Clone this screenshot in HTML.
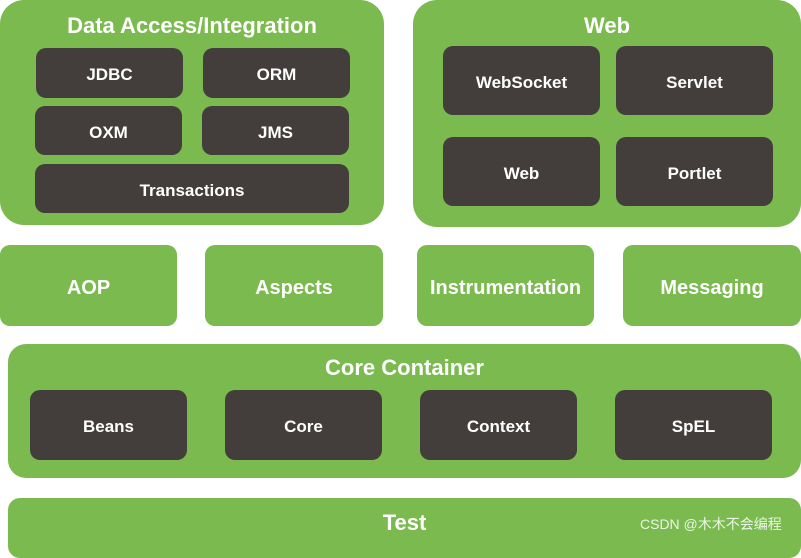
<!DOCTYPE html>
<html><head><meta charset="utf-8"><style>
body{margin:0;width:801px;height:541px;overflow:hidden;background:#fff;position:relative;font-family:"Liberation Sans",Arial,sans-serif;font-weight:bold}
.g{position:absolute;background:#7aba4f;border-radius:24px}
.s{position:absolute;background:#7aba4f;border-radius:10px;color:#fff;font-size:20px;display:flex;align-items:center;justify-content:center;box-sizing:border-box;padding-top:5px}
.d{position:absolute;background:#433e3b;border-radius:10px;color:#fff;font-size:17px;display:flex;align-items:center;justify-content:center;box-sizing:border-box;padding-top:4px}
.t{position:absolute;color:#fff;font-size:22px;text-align:center}
</style></head><body>
<div class="g" style="left:0;top:0;width:384px;height:225px"></div>
<div class="t" style="left:0;top:13px;width:384px">Data Access/Integration</div>
<div class="d" style="left:36px;top:48px;width:147px;height:50px">JDBC</div>
<div class="d" style="left:203px;top:48px;width:147px;height:50px">ORM</div>
<div class="d" style="left:35px;top:106px;width:147px;height:49px">OXM</div>
<div class="d" style="left:202px;top:106px;width:147px;height:49px">JMS</div>
<div class="d" style="left:35px;top:164px;width:314px;height:49px">Transactions</div>

<div class="g" style="left:413px;top:0;width:388px;height:227px"></div>
<div class="t" style="left:413px;top:13px;width:388px">Web</div>
<div class="d" style="left:443px;top:46px;width:157px;height:69px">WebSocket</div>
<div class="d" style="left:616px;top:46px;width:157px;height:69px">Servlet</div>
<div class="d" style="left:443px;top:137px;width:157px;height:69px">Web</div>
<div class="d" style="left:616px;top:137px;width:157px;height:69px">Portlet</div>

<div class="s" style="left:0;top:245px;width:177px;height:81px">AOP</div>
<div class="s" style="left:205px;top:245px;width:178px;height:81px">Aspects</div>
<div class="s" style="left:417px;top:245px;width:177px;height:81px">Instrumentation</div>
<div class="s" style="left:623px;top:245px;width:178px;height:81px">Messaging</div>

<div class="g" style="left:8px;top:344px;width:793px;height:134px;border-radius:18px"></div>
<div class="t" style="left:8px;top:355px;width:793px">Core Container</div>
<div class="d" style="left:30px;top:390px;width:157px;height:70px">Beans</div>
<div class="d" style="left:225px;top:390px;width:157px;height:70px">Core</div>
<div class="d" style="left:420px;top:390px;width:157px;height:70px">Context</div>
<div class="d" style="left:615px;top:390px;width:157px;height:70px">SpEL</div>

<div class="g" style="left:8px;top:498px;width:793px;height:60px;border-radius:12px"></div>
<div class="t" style="left:8px;top:510px;width:793px">Test</div>
<div style="position:absolute;left:640px;top:514px;font-weight:normal;font-size:14px;color:#eef5e8;font-family:'Liberation Sans','Noto Sans CJK SC',sans-serif">CSDN @木木不会编程</div>
</body></html>
